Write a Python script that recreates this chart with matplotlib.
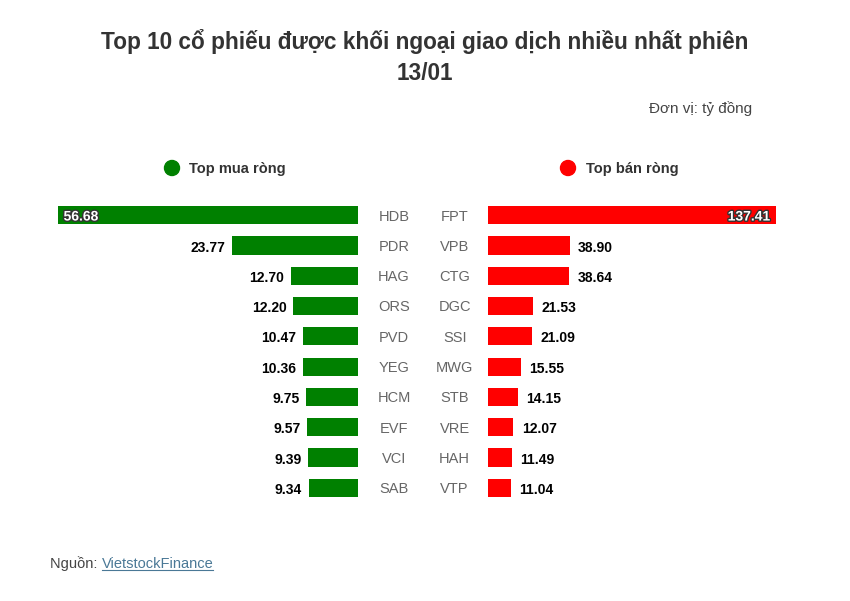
import matplotlib
matplotlib.use("Agg")
import matplotlib.pyplot as plt
import matplotlib.patheffects as pe
from matplotlib.patches import Ellipse

buy_tickers = ["HDB", "PDR", "HAG", "ORS", "PVD", "YEG", "HCM", "EVF", "VCI", "SAB"]
buy_values = [56.68, 23.77, 12.70, 12.20, 10.47, 10.36, 9.75, 9.57, 9.39, 9.34]
sell_tickers = ["FPT", "VPB", "CTG", "DGC", "SSI", "MWG", "STB", "VRE", "HAH", "VTP"]
sell_values = [137.41, 38.90, 38.64, 21.53, 21.09, 15.55, 14.15, 12.07, 11.49, 11.04]

title = "Top 10 cổ phiếu được khối ngoại giao dịch nhiều nhất phiên\n13/01"
unit = "Đơn vị: tỷ đồng"
buy_label = "Top mua ròng"
sell_label = "Top bán ròng"

main = "Liberation Sans"

W, H = 850, 601
fig = plt.figure(figsize=(W / 100, H / 100), dpi=100)
fig.patch.set_facecolor("white")


def fx(px):
    return px / W


def fy(py):
    return 1 - py / H


GREEN = "#008000"
RED = "#ff0000"

top_px, bot_px = 200, 503
n = len(buy_values)

axl = fig.add_axes([fx(58), fy(bot_px), fx(358) - fx(58), fy(top_px) - fy(bot_px)])
axl.barh(range(n), buy_values, height=0.6, color=GREEN)
axl.set_xlim(max(buy_values), 0)
axl.set_ylim(n - 0.5, -0.5)
axl.axis("off")

axr = fig.add_axes([fx(488), fy(bot_px), fx(776) - fx(488), fy(top_px) - fy(bot_px)])
axr.barh(range(n), sell_values, height=0.6, color=RED)
axr.set_xlim(0, max(sell_values))
axr.set_ylim(n - 0.5, -0.5)
axr.axis("off")

outline = [pe.withStroke(linewidth=2, foreground="#333333")]
VS = 10
for i, (t, v) in enumerate(zip(buy_tickers, buy_values)):
    if v == max(buy_values):
        axl.annotate(f"{v:.2f}", (v, i), xytext=(4, -1), textcoords="offset points",
                     ha="left", va="center", color="white", fontsize=VS, fontweight="bold",
                     family=main, path_effects=outline)
    else:
        axl.annotate(f"{v:.2f}", (v, i), xytext=(-5, -1.5), textcoords="offset points",
                     ha="right", va="center", color="black", fontsize=VS,
                     fontweight="bold", family=main)
    axl.annotate(t, (0, i), xytext=(26, -1), textcoords="offset points",
                 ha="center", va="center", color="#666666", fontsize=10.5, family=main)

for i, (t, v) in enumerate(zip(sell_tickers, sell_values)):
    if v == max(sell_values):
        axr.annotate(f"{v:.2f}", (v, i), xytext=(-4, -1), textcoords="offset points",
                     ha="right", va="center", color="white", fontsize=VS,
                     fontweight="bold", family=main, path_effects=outline)
    else:
        axr.annotate(f"{v:.2f}", (v, i), xytext=(6, -1.5), textcoords="offset points",
                     ha="left", va="center", color="black", fontsize=VS,
                     fontweight="bold", family=main)
    axr.annotate(t, (0, i), xytext=(-24, -1), textcoords="offset points",
                 ha="center", va="center", color="#666666", fontsize=10.5, family=main)

fig.text(0.5, fy(57), title, ha="center", va="center", fontsize=16.3,
         fontweight="bold", color="#333333", family=main, linespacing=1.45)
fig.text(fx(752), fy(109), unit, ha="right", va="center", fontsize=11,
         color="#444444", family=main)

fig.patches.append(Ellipse((fx(172), fy(168)), 15 / W, 15 / H, transform=fig.transFigure, color=GREEN))
fig.patches.append(Ellipse((fx(568), fy(168)), 15 / W, 15 / H, transform=fig.transFigure, color=RED))
fig.text(fx(189), fy(169), buy_label, ha="left", va="center", fontsize=10.5,
         fontweight="bold", color="#333333", family=main)
fig.text(fx(586), fy(169), sell_label, ha="left", va="center", fontsize=10.5,
         fontweight="bold", color="#333333", family=main)

src = fig.text(fx(50), fy(564), "Nguồn: ", ha="left", va="center", fontsize=10.5,
               color="#444444", family=main)
fig.canvas.draw()
bb = src.get_window_extent()
link = fig.text(bb.x1 / W, fy(564), "VietstockFinance", ha="left", va="center",
                fontsize=10.5, color="#4a7896", family=main)
fig.canvas.draw()
lb = link.get_window_extent()
fig.add_artist(plt.Line2D([lb.x0 / W, lb.x1 / W], [(lb.y0 + 1) / H, (lb.y0 + 1) / H],
                          transform=fig.transFigure, color="#4a7896", linewidth=0.8))

fig.savefig("out.png", dpi=100, facecolor="white")
